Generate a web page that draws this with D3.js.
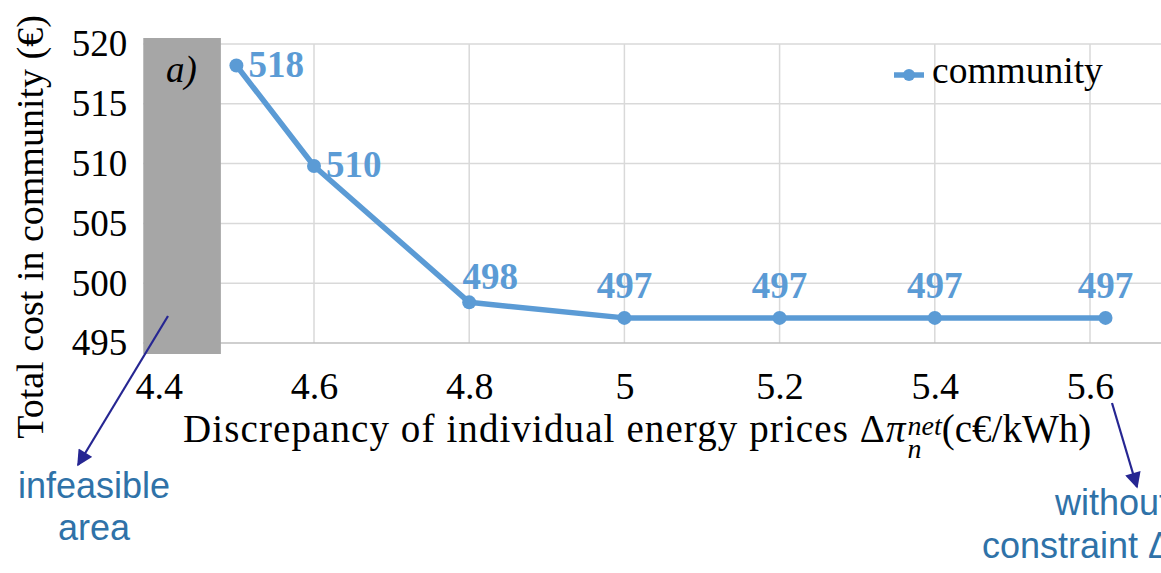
<!DOCTYPE html>
<html>
<head>
<meta charset="utf-8">
<script src="https://cdn.jsdelivr.net/npm/d3@7"></script>
<style>
  body { margin: 0; background: #fff; }
  svg { display: block; font-family: "Liberation Serif", "Times New Roman", serif; }
</style>
</head>
<body>
<svg id="chart"></svg>
<script>
// chart data
const xTicks = [4.4, 4.6, 4.8, 5, 5.2, 5.4, 5.6];
const yTicks = [495, 500, 505, 510, 515, 520];
const xValues = [4.5, 4.6, 4.8, 5.0, 5.2, 5.4, 5.62];
const costValues = [518.2, 509.8, 498.4, 497.1, 497.1, 497.1, 497.1];
const costLabels = ["518", "510", "498", "497", "497", "497", "497"];
const infeasibleRange = [4.38, 4.48];
const seriesName = "community";

const width = 1161, height = 573;
const blue = "#5b9bd5";

const svg = d3.select("#chart")
    .attr("width", width)
    .attr("height", height);

svg.append("rect").attr("width", width).attr("height", height).attr("fill", "#fff");

// scales (value axis on x)
const x = d3.scaleLinear().domain([4.6, 5.6]).range([314, 1090]);
const y = d3.scaleLinear().domain([495, 520]).range([343, 44]);

const plotRight = width;

// horizontal gridlines
svg.append("g")
    .selectAll("line")
    .data(yTicks.filter(d => d !== 495))
    .join("line")
    .attr("x1", x(infeasibleRange[0]))
    .attr("x2", plotRight)
    .attr("y1", d => y(d))
    .attr("y2", d => y(d))
    .attr("stroke", "#d9d9d9")
    .attr("stroke-width", 1.5);

// vertical gridlines
svg.append("g")
    .selectAll("line")
    .data(xTicks)
    .join("line")
    .attr("x1", d => x(d))
    .attr("x2", d => x(d))
    .attr("y1", y(520))
    .attr("y2", y(495))
    .attr("stroke", "#d9d9d9")
    .attr("stroke-width", 1.5);

// bottom axis line
svg.append("line")
    .attr("x1", x(infeasibleRange[0]))
    .attr("x2", plotRight)
    .attr("y1", y(495))
    .attr("y2", y(495))
    .attr("stroke", "#bfbfbf")
    .attr("stroke-width", 1.5);

// infeasible area
svg.append("rect")
    .attr("x", x(infeasibleRange[0]))
    .attr("width", x(infeasibleRange[1]) - x(infeasibleRange[0]))
    .attr("y", y(520) - 6)
    .attr("height", y(495) - y(520) + 17)
    .attr("fill", "#a6a6a6");

// y axis tick labels
const yAxis = svg.append("g")
    .attr("transform", "translate(" + (x(infeasibleRange[0]) - 16) + ",0)")
    .call(d3.axisLeft(y).tickValues(yTicks).tickSize(0).tickPadding(0));
yAxis.select(".domain").remove();
yAxis.attr("font-family", null).attr("font-size", null);
yAxis.selectAll("text")
    .style("font-family", "'Liberation Serif', serif")
    .style("font-size", "37px")
    .attr("fill", "#000");

// x axis tick labels
const xAxis = svg.append("g")
    .attr("transform", "translate(0," + y(495) + ")")
    .call(d3.axisBottom(x).tickValues(xTicks).tickFormat(d3.format("~g")).tickSize(0).tickPadding(0));
xAxis.select(".domain").remove();
xAxis.attr("font-family", null).attr("font-size", null);
xAxis.selectAll("text")
    .attr("dy", 0)
    .attr("y", 56)
    .style("font-family", "'Liberation Serif', serif")
    .style("font-size", "38px")
    .attr("fill", "#000");

// line
const pts = xValues.map((v, i) => ({x: v, y: costValues[i], label: costLabels[i], i: i}));
svg.append("path")
    .datum(pts)
    .attr("fill", "none")
    .attr("stroke", blue)
    .attr("stroke-width", 5.5)
    .attr("stroke-linejoin", "round")
    .attr("d", d3.line().x(d => x(d.x)).y(d => y(d.y)));

svg.append("g")
    .selectAll("circle")
    .data(pts)
    .join("circle")
    .attr("cx", d => x(d.x))
    .attr("cy", d => y(d.y))
    .attr("r", 7)
    .attr("fill", blue);

// data labels (first two to the right, rest above)
svg.append("g")
    .selectAll("text")
    .data(pts)
    .join("text")
    .attr("x", d => d.i < 2 ? x(d.x) + 12 : x(d.x) + (d.i === 2 ? 21 : 0))
    .attr("y", d => d.i < 2 ? y(d.y) + 11 : y(d.y) - (d.i === 2 ? 13 : 20))
    .attr("text-anchor", d => d.i < 2 ? "start" : "middle")
    .attr("font-size", 37)
    .attr("font-weight", "bold")
    .attr("fill", blue)
    .text(d => d.label);

// legend
const lg = svg.append("g").attr("transform", "translate(894,75)");
lg.append("line").attr("x1", 0).attr("x2", 30).attr("stroke", blue).attr("stroke-width", 5.5);
lg.append("circle").attr("cx", 15).attr("r", 6).attr("fill", blue);
lg.append("text").attr("x", 38).attr("y", 8).attr("font-size", 37.5).attr("fill", "#000").text(seriesName);

// panel tag
svg.append("text")
    .attr("x", 166).attr("y", 82)
    .attr("font-size", 37)
    .attr("font-style", "italic")
    .text("a)");

// y axis title
svg.append("text")
    .attr("transform", "translate(43,227)rotate(-90)")
    .attr("text-anchor", "middle")
    .attr("font-size", 38)
    .text("Total cost in community (€)");

// x axis title
const xt = svg.append("text")
    .attr("x", 183).attr("y", 442)
    .attr("font-size", 39);
xt.append("tspan").attr("letter-spacing", 1.1).text("Discrepancy of individual energy prices Δ");
xt.append("tspan").attr("font-style", "italic").text("π");
xt.append("tspan").attr("font-style", "italic").attr("font-size", 28).attr("dx", 2).attr("dy", 16).text("n");
xt.append("tspan").attr("font-style", "italic").attr("font-size", 28).attr("dx", -14).attr("dy", -23).text("net");
xt.append("tspan").attr("dy", 7).text("(c€/kWh)");

// annotations
const navy = "#262692";
svg.append("defs").append("marker")
    .attr("id", "arr")
    .attr("viewBox", "0 0 10 10")
    .attr("refX", 9).attr("refY", 5)
    .attr("markerWidth", 18).attr("markerHeight", 16)
    .attr("markerUnits", "userSpaceOnUse")
    .attr("orient", "auto")
    .append("path").attr("d", "M0,0L10,5L0,10z").attr("fill", navy);

svg.append("line")
    .attr("x1", 168).attr("y1", 316).attr("x2", 78).attr("y2", 465)
    .attr("stroke", navy).attr("stroke-width", 2.2)
    .attr("marker-end", "url(#arr)");
svg.append("line")
    .attr("x1", 1112).attr("y1", 403).attr("x2", 1137).attr("y2", 487)
    .attr("stroke", navy).attr("stroke-width", 2.2)
    .attr("marker-end", "url(#arr)");

// callout texts (the right one runs past the edge, as in the source figure)
const noteColor = "#2f72a8";
const note = svg.append("g")
    .attr("font-family", "Liberation Sans, Arial, sans-serif")
    .attr("font-size", 36)
    .attr("fill", noteColor);
note.append("text").attr("x", 94).attr("y", 498).attr("text-anchor", "middle").text("infeasible");
note.append("text").attr("x", 94).attr("y", 540).attr("text-anchor", "middle").text("area");
note.append("text").attr("x", 1055).attr("y", 515).text("without");
note.append("text").attr("x", 982).attr("y", 558).text("constraint Δπ");
</script>
</body>
</html>
